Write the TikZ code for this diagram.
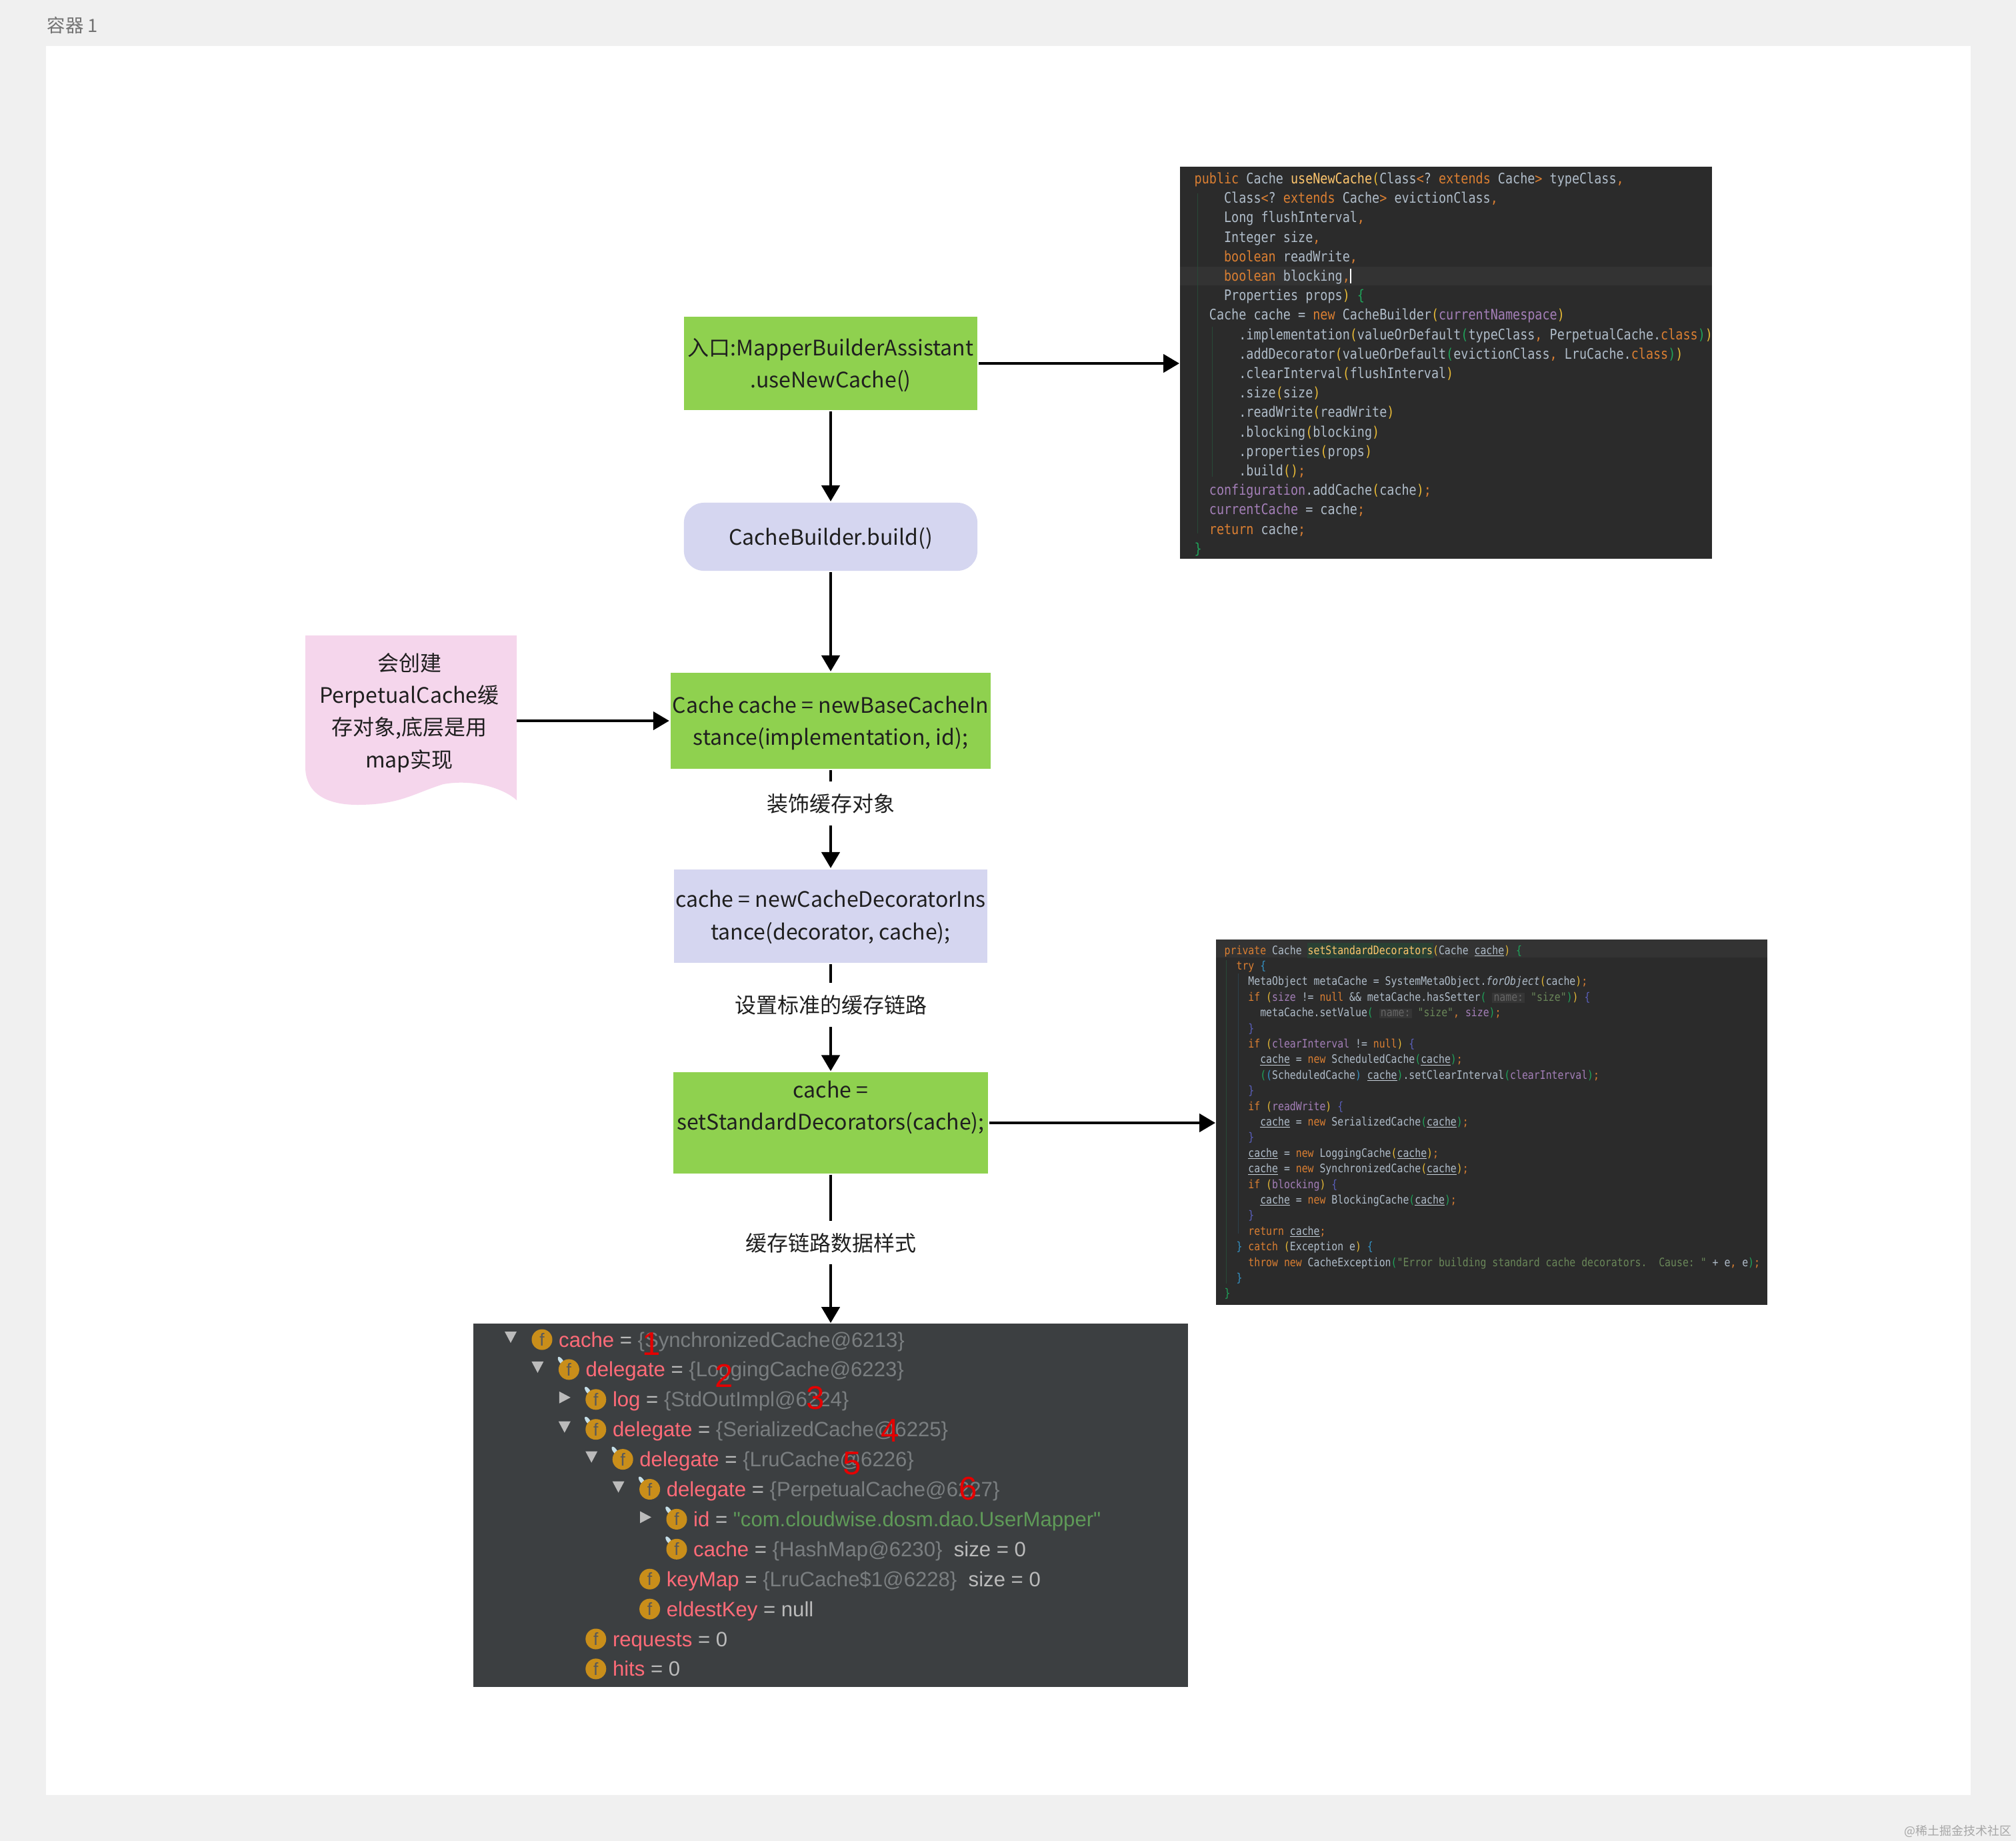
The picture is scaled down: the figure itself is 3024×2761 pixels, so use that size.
\documentclass[tikz,border=0pt]{standalone}
\usepackage{fontspec}
\usepackage{xcolor}
\usepackage{tikz}
\usetikzlibrary{arrows.meta}

\setmainfont{Noto Sans CJK SC}
\newfontfamily\codefont[FakeStretch=0.85]{DejaVu Sans Mono}
\newfontfamily\debugfont{Liberation Sans}

\definecolor{pagegray}{HTML}{F0F0F0}
\definecolor{boxgreen}{HTML}{8FD14F}
\definecolor{boxlav}{HTML}{D5D6F0}
\definecolor{docpink}{HTML}{F5D6EC}
\definecolor{codebg}{HTML}{2B2B2B}
\definecolor{codefg}{HTML}{B0BDCA}
\definecolor{codekw}{HTML}{DB7F32}
\definecolor{codemt}{HTML}{FFC66D}
\definecolor{codeyl}{HTML}{E8BA36}
\definecolor{codegn}{HTML}{1FA35A}
\definecolor{codepu}{HTML}{A47FB8}
\definecolor{codest}{HTML}{6A8759}
\definecolor{codebl}{HTML}{3592C4}
\definecolor{codein}{HTML}{5A5FBB}
\definecolor{debugbg}{HTML}{3C3F41}
\definecolor{debugnm}{HTML}{FF6B78}
\definecolor{debugvl}{HTML}{7A7E80}
\definecolor{debugfg}{HTML}{BBBBBB}
\definecolor{debugst}{HTML}{5F9A58}
\definecolor{iconor}{HTML}{C98E1A}

\newcommand{\ckw}[1]{\textcolor{codekw}{#1}}
\newcommand{\cmt}[1]{\textcolor{codemt}{#1}}
\newcommand{\cyl}[1]{\textcolor{codeyl}{#1}}
\newcommand{\cgn}[1]{\textcolor{codegn}{#1}}
\newcommand{\cpu}[1]{\textcolor{codepu}{#1}}
\newcommand{\cst}[1]{\textcolor{codest}{#1}}
\newcommand{\cbl}[1]{\textcolor{codebl}{#1}}
\newcommand{\cin}[1]{\textcolor{codein}{#1}}
\newcommand{\cul}{\rlap{\textcolor{codefg!70}{\rule[-0.8pt]{12.7pt}{0.25pt}}}cache}
\newcommand{\chint}{{\setlength{\fboxsep}{0.6pt}\colorbox{white!5!codebg}{\textcolor{gray!80!black}{name:}}}}
\newcommand{\dbn}[1]{\textcolor{debugnm}{#1}}
\newcommand{\dbv}[1]{\textcolor{debugvl}{#1}}

\begin{document}
\begin{tikzpicture}[x=0.01cm, y=-0.01cm,
    flowbox/.style={inner sep=0pt, outer sep=0.02cm, align=center, text=black!88,
        font=\fontsize{9.1}{13.7}\selectfont},
    edgetext/.style={fill=white, inner xsep=0.1cm, inner ysep=0pt, minimum height=0.65cm,
        text=black!88, font=\fontsize{9.1}{13.7}\selectfont},
    flowarrow/.style={-{Triangle[width=0.27cm,length=0.24cm]}, line width=0.045cm, black},
    codeone/.style={anchor=base west, inner sep=0pt, text=codefg,
        font=\codefont\fontsize{6.17}{7}\selectfont\frenchspacing},
    codetwo/.style={anchor=base west, inner sep=0pt, text=codefg,
        font=\codefont\fontsize{4.96}{6}\selectfont\frenchspacing},
    fieldicon/.style={circle, fill=iconor, inner sep=0pt, minimum size=0.31cm, text=black!65,
        font=\debugfont\fontsize{7.5}{8}\selectfont},
    fieldtext/.style={anchor=base west, inner sep=0pt, text=debugfg,
        font=\debugfont\fontsize{8.85}{10}\selectfont},
    rednum/.style={inner sep=0pt, text=red!90!black, font=\debugfont\fontsize{14}{16}\selectfont}]

\useasboundingbox (0,0) rectangle (3024,2761);
\fill[pagegray] (0,0) rectangle (3024,2761);
\fill[white] (69,69) rectangle (2956,2692);
\node[anchor=west, inner sep=0pt, text=black!55, font=\fontsize{7.8}{9}\selectfont] (title) at (70,38) {容器 1};
\node[anchor=east, inner sep=0pt, text=black!35, font=\fontsize{5.1}{7}\selectfont] (mark) at (3018,2746) {@稀土掘金技术社区};

% Flow boxes
\node[flowbox, fill=boxgreen, minimum width=4.40cm, minimum height=1.39cm] (entry) at (1246,545) {\rule{0pt}{9.1pt}入口:MapperBuilderAssistant\\.useNewCache()};
\node[flowbox, fill=boxlav, minimum width=4.40cm, minimum height=1.02cm, rounded corners=0.3cm] (builder) at (1246,805) {\rule{0pt}{9.1pt}CacheBuilder.build()};
\node[flowbox, fill=boxgreen, minimum width=4.80cm, minimum height=1.44cm] (cachenew) at (1246,1081) {\rule{0pt}{9.2pt}Cache cache = newBaseCacheIn\\stance(implementation, id);};
\node[flowbox, fill=boxlav, minimum width=4.70cm, minimum height=1.40cm] (decor) at (1246,1374) {\rule{0pt}{8pt}cache = newCacheDecoratorIns\\tance(decorator, cache);};
\node[flowbox, fill=boxgreen, minimum width=4.71cm, minimum height=1.51cm] (stdset) at (1246,1684) {cache =\\setStandardDecorators(cache);\\[1pt]~};

% Note with wavy bottom
\fill[docpink] (458,953) -- (775,953) -- (775,1200) .. controls (755,1182) and (710,1168) .. (665,1176)
    .. controls (620,1190) and (600,1207) .. (536,1207) .. controls (490,1207) and (458,1190) .. (458,1150) -- cycle;
\node[flowbox] (note) at (614,1069) {会创建\\PerpetualCache缓\\存对象,底层是用\\map实现};
\coordinate (noteedge) at (775,1081);

% Code panel: useNewCache
\node[fill=codebg, inner sep=0pt, minimum width=7.98cm, minimum height=5.88cm] (codeone) at (2169,544) {};
\fill[white!20!codebg, opacity=0.2] (1770,400) rectangle (2568,428);
\draw[codegn!25!codebg, line width=0.01cm] (1796,290) -- (1796,800);
\draw[codegn!25!codebg, line width=0.01cm] (1818,490) -- (1818,715);
\foreach \ind/\txt [count=\i from 0] in {
    0/{\ckw{public} Cache \cmt{useNewCache}\cyl{(}Class\ckw{<}? \ckw{extends} Cache\ckw{>} typeClass\ckw{,}},
    4/{Class\ckw{<}? \ckw{extends} Cache\ckw{>} evictionClass\ckw{,}},
    4/{Long flushInterval\ckw{,}},
    4/{Integer size\ckw{,}},
    4/{\ckw{boolean} readWrite\ckw{,}},
    4/{\ckw{boolean} blocking\ckw{,}},
    4/{Properties props\cyl{)} \cgn{\{}},
    2/{Cache cache = \ckw{new} CacheBuilder\cyl{(}\cpu{currentNamespace}\cyl{)}},
    6/{.implementation\cyl{(}valueOrDefault\cgn{(}typeClass\ckw{,} PerpetualCache.\ckw{class}\cgn{)}\cyl{)}},
    6/{.addDecorator\cyl{(}valueOrDefault\cgn{(}evictionClass\ckw{,} LruCache.\ckw{class}\cgn{)}\cyl{)}},
    6/{.clearInterval\cyl{(}flushInterval\cyl{)}},
    6/{.size\cyl{(}size\cyl{)}},
    6/{.readWrite\cyl{(}readWrite\cyl{)}},
    6/{.blocking\cyl{(}blocking\cyl{)}},
    6/{.properties\cyl{(}props\cyl{)}},
    6/{.build\cyl{()}\ckw{;}},
    2/{\cpu{configuration}.addCache\cyl{(}cache\cyl{)}\ckw{;}},
    2/{\cpu{currentCache} = cache\ckw{;}},
    2/{\ckw{return} cache\ckw{;}},
    0/{\cgn{\}}}} {
    \node[codeone] (usenew\i) at (1791+\ind*11.1, 275.5+\i*29.2) {\txt};
}
\draw[white, line width=0.012cm] (2026,403) -- (2026,425);

% Code panel: setStandardDecorators
\node[fill=codebg, inner sep=0pt, minimum width=8.27cm, minimum height=5.48cm] (codetwo) at (2237.5,1683) {};
\fill[white!20!codebg, opacity=0.2] (1824,1409) rectangle (2651,1436);
\fill[codegn!18!codebg] (1961,1414) rectangle (2150,1437);
\draw[codegn!25!codebg, line width=0.01cm] (1839,1440) -- (1839,1925);
\draw[codebl!22!codebg, line width=0.01cm] (1857,1460) -- (1857,1850);
\foreach \ind/\txt [count=\i from 0] in {
    0/{\ckw{private} Cache \cmt{setStandardDecorators}\cyl{(}Cache \cul\cyl{)} \cgn{\{}},
    2/{\ckw{try} \cbl{\{}},
    4/{MetaObject metaCache = SystemMetaObject.\textit{forObject}\cyl{(}cache\cyl{)}\ckw{;}},
    4/{\ckw{if} \cyl{(}\cpu{size} != \ckw{null} \&\& metaCache.hasSetter\cgn{(} \chint{} \cst{"size"}\cgn{)}\cyl{)} \cin{\{}},
    6/{metaCache.setValue\cgn{(} \chint{} \cst{"size"}\ckw{,} \cpu{size}\cgn{)}\ckw{;}},
    4/{\cin{\}}},
    4/{\ckw{if} \cyl{(}\cpu{clearInterval} != \ckw{null}\cyl{)} \cin{\{}},
    6/{\cul{} = \ckw{new} ScheduledCache\cgn{(}\cul\cgn{)}\ckw{;}},
    6/{\cgn{(}\cbl{(}ScheduledCache\cbl{)} \cul\cgn{)}.setClearInterval\cgn{(}\cpu{clearInterval}\cgn{)}\ckw{;}},
    4/{\cin{\}}},
    4/{\ckw{if} \cyl{(}\cpu{readWrite}\cyl{)} \cin{\{}},
    6/{\cul{} = \ckw{new} SerializedCache\cgn{(}\cul\cgn{)}\ckw{;}},
    4/{\cin{\}}},
    4/{\cul{} = \ckw{new} LoggingCache\cyl{(}\cul\cyl{)}\ckw{;}},
    4/{\cul{} = \ckw{new} SynchronizedCache\cyl{(}\cul\cyl{)}\ckw{;}},
    4/{\ckw{if} \cyl{(}\cpu{blocking}\cyl{)} \cin{\{}},
    6/{\cul{} = \ckw{new} BlockingCache\cgn{(}\cul\cgn{)}\ckw{;}},
    4/{\cin{\}}},
    4/{\ckw{return} \cul\ckw{;}},
    2/{\cbl{\}} \ckw{catch} \cyl{(}Exception e\cyl{)} \cbl{\{}},
    4/{\ckw{throw} \ckw{new} CacheException\cgn{(}\cst{"Error building standard cache decorators.\ \ Cause: "} + e\ckw{,} e\cgn{)}\ckw{;}},
    2/{\cbl{\}}},
    0/{\cgn{\}}}} {
    \node[codetwo] (stddeco\i) at (1836+\ind*8.93, 1431+\i*23.4) {\txt};
}

% Debugger panel
\node[fill=debugbg, inner sep=0pt, minimum width=10.72cm, minimum height=5.45cm] (debugpanel) at (1246,2257.5) {};
\foreach \r/\l in {0/0,1/1,3/2,4/3,5/4} {
    \fill[debugfg] (766+\l*40.4-9, 2009+\r*44.9-12) -- ++(18,0) -- ++(-9,17) -- cycle;
}
\foreach \r/\l in {2/2,6/5} {
    \fill[debugfg] (766+\l*40.4-8, 2009+\r*44.9-12) -- ++(17,9) -- ++(-17,9) -- cycle;
}
\foreach \r/\l in {1/1,2/2,3/2,4/3,5/4,6/5,7/5} {
    \fill[gray!55!cyan!35!white] (813+\l*40.4-12, 2009+\r*44.9-13) ellipse [x radius=0.07cm, y radius=0.03cm, rotate=-55];
}
\foreach \l/\txt [count=\i from 0] in {
    0/{\dbn{cache} = \dbv{\{SynchronizedCache@6213\}}},
    1/{\dbn{delegate} = \dbv{\{LoggingCache@6223\}}},
    2/{\dbn{log} = \dbv{\{StdOutImpl@6224\}}},
    2/{\dbn{delegate} = \dbv{\{SerializedCache@6225\}}},
    3/{\dbn{delegate} = \dbv{\{LruCache@6226\}}},
    4/{\dbn{delegate} = \dbv{\{PerpetualCache@6227\}}},
    5/{\dbn{id} = \textcolor{debugst}{"com.cloudwise.dosm.dao.UserMapper"}},
    5/{\dbn{cache} = \dbv{\{HashMap@6230\}}\ \ size = 0},
    4/{\dbn{keyMap} = \dbv{\{LruCache\$1@6228\}}\ \ size = 0},
    4/{\dbn{eldestKey} = null},
    2/{\dbn{requests} = 0},
    2/{\dbn{hits} = 0}} {
    \node[fieldicon] (field\i) at (813+\l*40.4, 2009+\i*44.9) {f};
    \node[fieldtext] (fieldlabel\i) at (837.5+\l*40.4, 2020+\i*44.9) {\txt};
}

% Red numbers
\foreach \n/\x/\y in {1/977/2016, 2/1086/2063, 3/1223/2097, 4/1335/2146, 5/1278/2195, 6/1452/2233} {
    \node[rednum] (num\n) at (\x,\y) {\n};
}

% Connectors
\draw[flowarrow] (entry) -- (builder);
\draw[flowarrow] (builder) -- (cachenew);
\draw[flowarrow] (noteedge) -- (noteedge -| cachenew.west);
\draw[flowarrow] (cachenew) -- node[edgetext, pos=0.34] (decolabel) {装饰缓存对象} (decor);
\draw[flowarrow] (decor) -- node[edgetext, pos=0.38] (stdlabel) {设置标准的缓存链路} (stdset);
\draw[flowarrow] (stdset) -- node[edgetext, pos=0.46] (datalabel) {缓存链路数据样式} (debugpanel);
\draw[flowarrow] (entry.east) -- (entry.east -| codeone.west);
\draw[flowarrow] (stdset.east) -- (stdset.east -| codetwo.west);

\end{tikzpicture}
\end{document}
